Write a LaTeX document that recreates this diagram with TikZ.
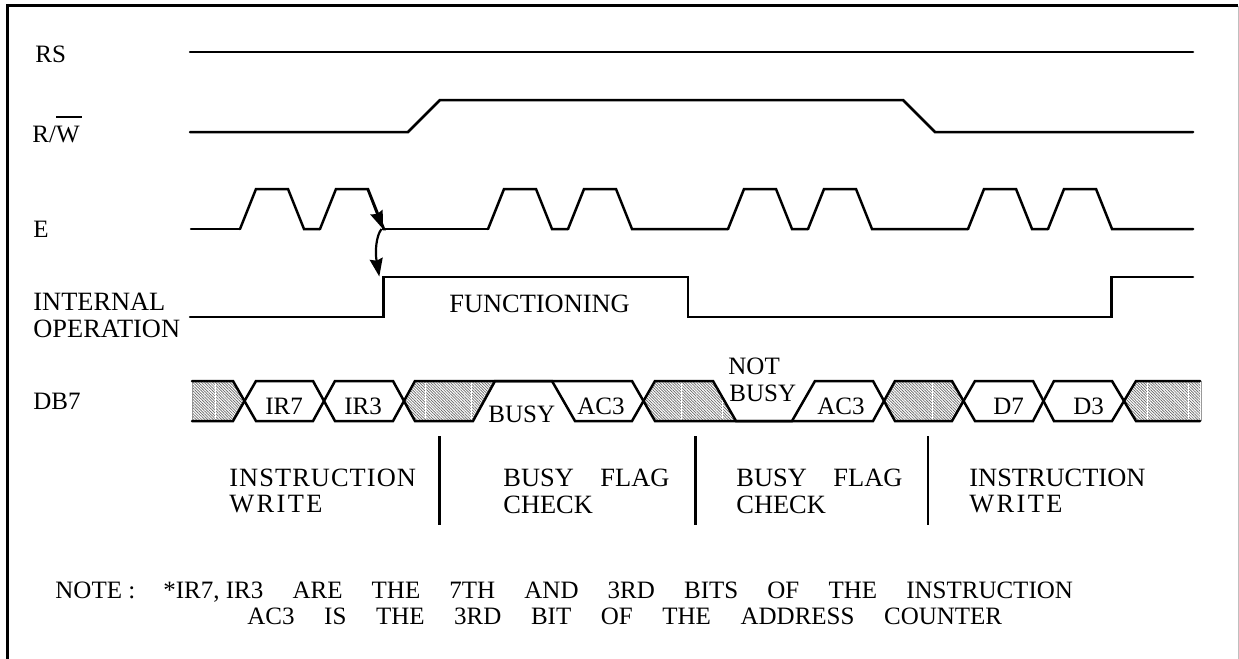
\documentclass[tikz,border=0pt]{standalone}
\usepackage{fontspec}
\setmainfont{Liberation Serif}
\usetikzlibrary{arrows.meta,patterns.meta}

\begin{document}
\begin{tikzpicture}[x=.5pt,y=-.5pt,font=\fontsize{12.5}{14}\selectfont,
    wave/.style={line width=1.25pt,line join=miter,line cap=round},
    hatched/.style={pattern={Lines[angle=-45,distance=1pt,line width=.34pt]},pattern color=black!60},
    sig label/.style={anchor=base west,inner sep=0pt},
    big label/.style={sig label,font=\fontsize{13.2}{15}\selectfont},
    flag arrow/.style={line width=1.1pt,-{Stealth[length=9pt,width=6.5pt,inset=1pt]},shorten >=0pt}]
  \useasboundingbox (0,0) rectangle (1239,659);

  % frame
  \draw[line width=1.25pt] (7.5,659) -- (7.5,5.5) -- (1238,5.5);
  \draw[line width=.5pt,black!25] (1238,5.5) -- (1238,659);

  % signal names
  \node[sig label] (rs) at (35,62) {RS};
  \node[sig label] (rw) at (32,142) {R/\makebox[0pt][l]{\rule[12pt]{13pt}{1pt}}W};
  \node[sig label] (e) at (33,237) {E};
  \node[big label] (int) at (33,310) {INTERNAL};
  \node[big label] (op) at (33,337) {OPERATION};
  \node[sig label] (db) at (33,409) {DB7};

  % RS, R/W, internal operation
  \draw[wave] (190,52) -- (1193,52);
  \draw[wave] (190,132) -- (408,132) -- (440,100) -- (903,100) -- (935,132) -- (1193,132);
  \draw[wave] (190,317) -- (383.5,317) -- (383.5,277) -- (688,277) -- (688,317) -- (1111.5,317) -- (1111.5,277) -- (1193,277);
  \node[big label] (func) at (449,312) {FUNCTIONING};

  % E
  \draw[wave] (191,229) -- (240,229);
  \foreach \x/\n in {240/320,320/383,488/568,568/728,728/808,808/968,968/1048,1048/1193}
    \draw[wave] (\x,229) -- ++(16,-40) -- ++(32,0) -- ++(16,40) -- (\n,229);
  \draw[wave] (383,229) -- (488,229);

  \coordinate (fall) at (367.5,189);
  \coordinate (edge) at (383,229);
  \coordinate (start) at (381.5,229);
  \coordinate (rise) at (379.3,276.5);
  \draw[flag arrow] (fall) -- (edge);
  \draw[flag arrow] (start) .. controls (376,236) and (375,252) .. (rise);

  % DB7 hatching
  \fill[hatched] (192,381) -- (233,381) -- (243,401) -- (233,421) -- (192,421) -- cycle;
  \fill[hatched] (404,401) -- (415,381) -- (495,381) -- (473,421) -- (415,421) -- cycle;
  \fill[hatched] (644,401) -- (655,381) -- (713,381) -- (736,421) -- (655,421) -- cycle;
  \fill[hatched] (884,401) -- (895,381) -- (952,381) -- (964,401) -- (952,421) -- (895,421) -- cycle;
  \fill[hatched] (1124,401) -- (1136,381) -- (1200,381) -- (1200,421) -- (1136,421) -- cycle;
  \foreach \x/\y in {215.7/383,425.7/383,471.7/383,681.7/383,722.3/397,932/383,1147/383,1188/383}
    \draw[white,line width=.5pt] (\x,\y) -- (\x,419);
  \draw[line width=.5pt,black!40] (192,381) -- (192,421);
  \draw[line width=.5pt,black!40] (1201,381) -- (1201,421);

  % DB7 outline
  \draw[wave] (192,381) -- (233,381) -- (256,421) -- (313,421) -- (335,381) -- (393,381) -- (415,421)
    -- (473,421) -- (495,381) -- (552,381) -- (575,421) -- (632,421) -- (655,381) -- (713,381) -- (736,421)
    -- (792,421) -- (815,381) -- (873,381) -- (895,421) -- (952,421) -- (975,381) -- (1033,381) -- (1054,421)
    -- (1112,421) -- (1136,381) -- (1200,381);
  \draw[wave] (192,421) -- (233,421) -- (256,381) -- (313,381) -- (335,421) -- (393,421) -- (415,381)
    -- (632,381) -- (655,421) -- (873,421) -- (895,381) -- (952,381) -- (975,421) -- (1033,421)
    -- (1054,381) -- (1112,381) -- (1136,421) -- (1200,421);

  \node[sig label] (ir7) at (265,414) {IR7};
  \node[sig label] (ir3) at (344,414) {IR3};
  \node[sig label] (busy) at (488,422) {BUSY};
  \node[sig label] (ac3a) at (577,414) {AC3};
  \node[sig label] (not) at (728,374) {NOT};
  \node[sig label] (nbusy) at (729,401) {BUSY};
  \node[sig label] (ac3b) at (817,414) {AC3};
  \node[sig label] (d7) at (993,414) {D7};
  \node[sig label] (d3) at (1073,414) {D3};

  % phases
  \foreach \x in {439.5,695.5,928}
    \draw[line width=1.25pt] (\x,436) -- (\x,525);
  \node[big label] (ph1) at (229,486) {\addfontfeature{LetterSpace=4}INSTRUCTION};
  \node[big label] (ph1b) at (229,512) {\addfontfeature{LetterSpace=9}WRITE};
  \node[big label] (ph2) at (503,486) {\makebox[83pt][s]{BUSY FLAG}};
  \node[big label] (ph2b) at (503,513) {CHECK};
  \node[big label] (ph3) at (736,486) {\makebox[83pt][s]{BUSY FLAG}};
  \node[big label] (ph3b) at (736,513) {CHECK};
  \node[big label] (ph4) at (969,486) {INSTRUCTION};
  \node[big label] (ph4b) at (969,512) {\addfontfeature{LetterSpace=9}WRITE};

  % note
  \node[sig label] (note) at (55,598) {NOTE :};
  \node[sig label] (note1) at (163,598) {\makebox[454.8pt][s]{\mbox{*IR7, IR3} ARE THE 7TH AND 3RD BITS OF THE INSTRUCTION}};
  \node[sig label] (note2) at (247,624) {\makebox[377.4pt][s]{AC3 IS THE 3RD BIT OF THE ADDRESS COUNTER}};
\end{tikzpicture}
\end{document}
